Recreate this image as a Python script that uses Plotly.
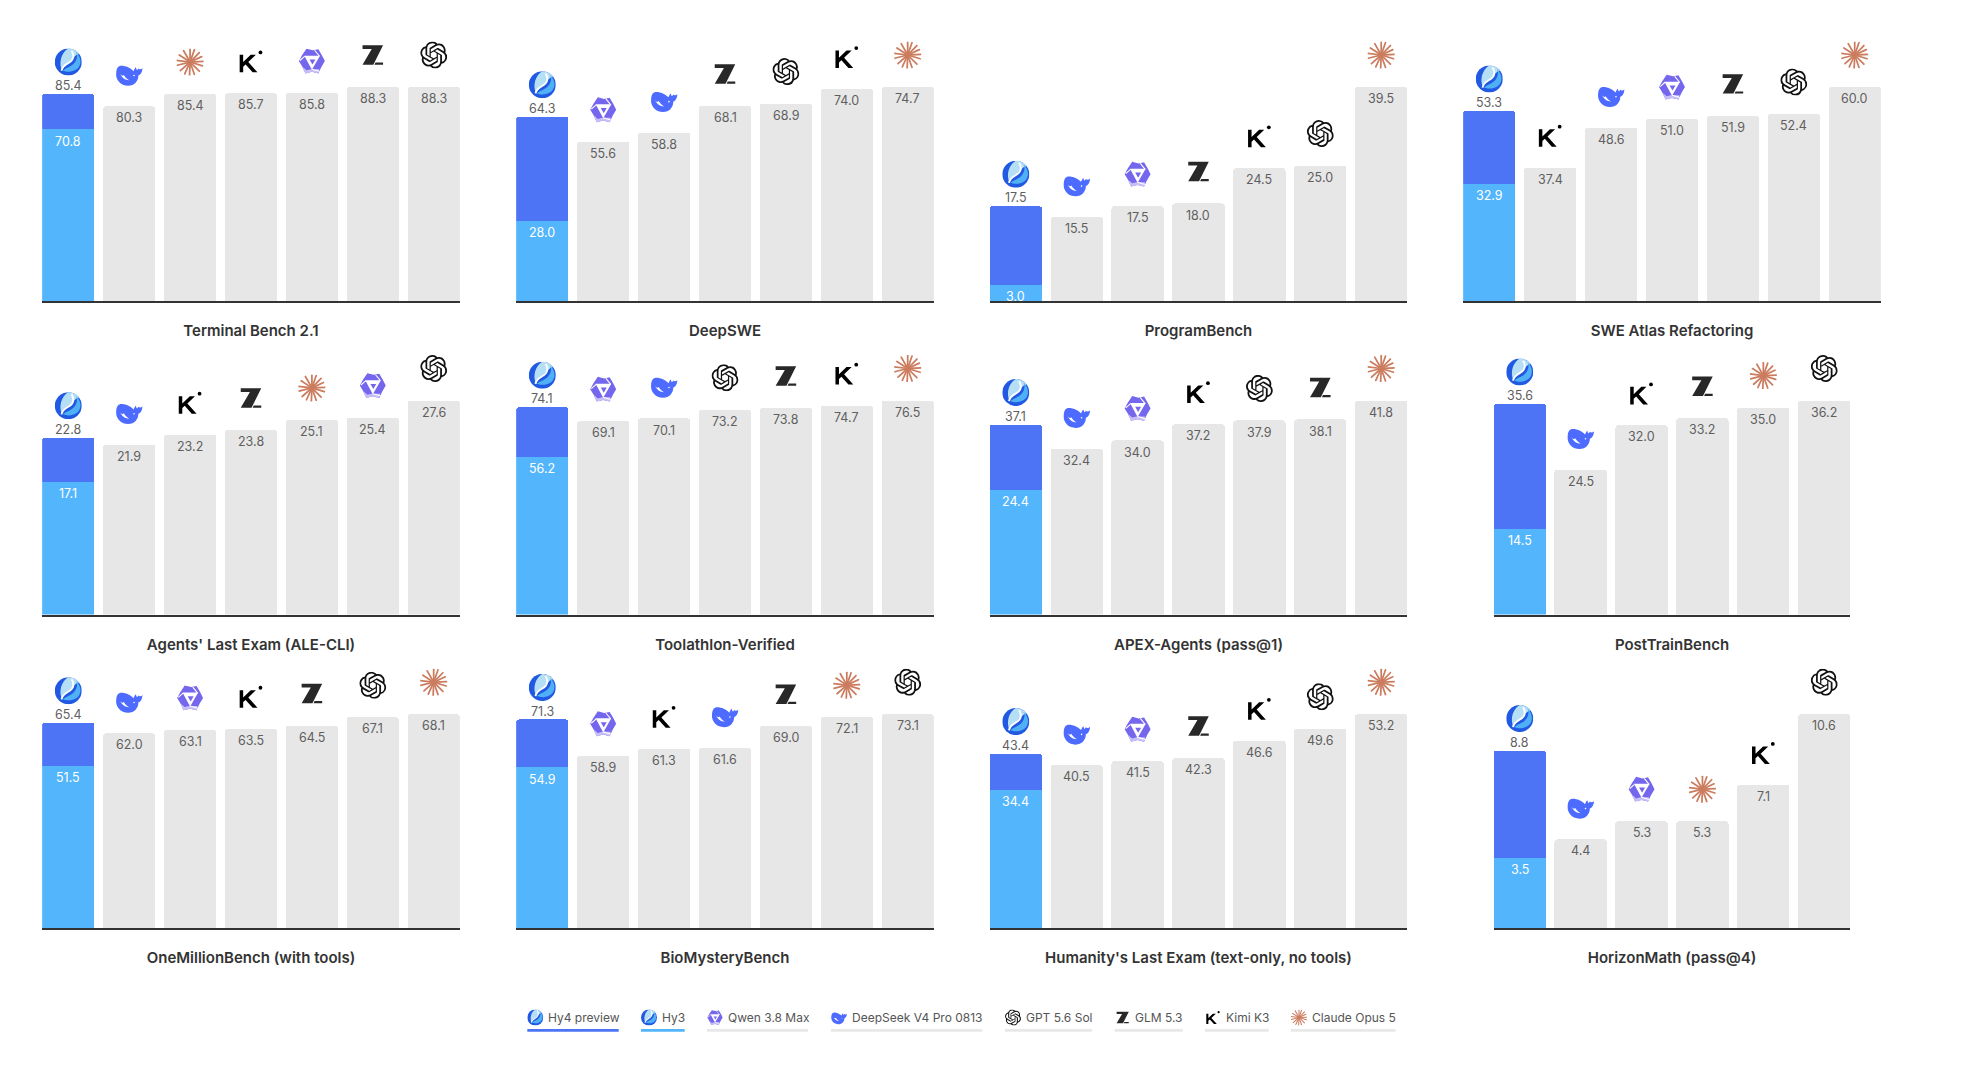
import base64
import plotly.graph_objects as go

# one entry per small chart, left to right, top to bottom
PANEL_TITLES = [
    "Terminal Bench 2.1", "DeepSWE", "ProgramBench", "SWE Atlas Refactoring",
    "Agents' Last Exam (ALE-CLI)", "Toolathlon-Verified", "APEX-Agents (pass@1)", "PostTrainBench",
    "OneMillionBench (with tools)", "BioMysteryBench", "Humanity's Last Exam (text-only, no tools)", "HorizonMath (pass@4)",
]
PANEL_MODELS = [
    ["hy", "deepseek", "claude", "kimi", "qwen", "glm", "gpt"],
    ["hy", "qwen", "deepseek", "glm", "gpt", "kimi", "claude"],
    ["hy", "deepseek", "qwen", "glm", "kimi", "gpt", "claude"],
    ["hy", "kimi", "deepseek", "qwen", "glm", "gpt", "claude"],
    ["hy", "deepseek", "kimi", "glm", "claude", "qwen", "gpt"],
    ["hy", "qwen", "deepseek", "gpt", "glm", "kimi", "claude"],
    ["hy", "deepseek", "qwen", "kimi", "gpt", "glm", "claude"],
    ["hy", "deepseek", "kimi", "glm", "claude", "gpt"],
    ["hy", "deepseek", "qwen", "kimi", "glm", "gpt", "claude"],
    ["hy", "qwen", "kimi", "deepseek", "glm", "claude", "gpt"],
    ["hy", "deepseek", "qwen", "glm", "kimi", "gpt", "claude"],
    ["hy", "deepseek", "qwen", "claude", "kimi", "gpt"],
]
PANEL_VALUES = [
    [85.4, 80.3, 85.4, 85.7, 85.8, 88.3, 88.3],
    [64.3, 55.6, 58.8, 68.1, 68.9, 74.0, 74.7],
    [17.5, 15.5, 17.5, 18.0, 24.5, 25.0, 39.5],
    [53.3, 37.4, 48.6, 51.0, 51.9, 52.4, 60.0],
    [22.8, 21.9, 23.2, 23.8, 25.1, 25.4, 27.6],
    [74.1, 69.1, 70.1, 73.2, 73.8, 74.7, 76.5],
    [37.1, 32.4, 34.0, 37.2, 37.9, 38.1, 41.8],
    [35.6, 24.5, 32.0, 33.2, 35.0, 36.2],
    [65.4, 62.0, 63.1, 63.5, 64.5, 67.1, 68.1],
    [71.3, 58.9, 61.3, 61.6, 69.0, 72.1, 73.1],
    [43.4, 40.5, 41.5, 42.3, 46.6, 49.6, 53.2],
    [8.8, 4.4, 5.3, 5.3, 7.1, 10.6],
]
HY3_VALUES = [70.8, 28.0, 3.0, 32.9, 17.1, 56.2, 24.4, 14.5, 51.5, 54.9, 34.4, 3.5]

LEGEND_NAMES = ["Hy4 preview", "Hy3", "Qwen 3.8 Max", "DeepSeek V4 Pro 0813", "GPT 5.6 Sol", "GLM 5.3", "Kimi K3", "Claude Opus 5"]
LEGEND_ICONS = ["hy", "hy", "qwen", "deepseek", "gpt", "glm", "kimi", "claude"]
LEGEND_COLORS = ["#4d74f5", "#53b5fb", "#e8e8e8", "#e8e8e8", "#e8e8e8", "#e8e8e8", "#e8e8e8", "#e8e8e8"]
LEGEND_LEFT = [527.3, 641, 707, 831, 1005, 1114.7, 1205, 1291]
LEGEND_RIGHT = [618.7, 684.7, 808, 982.3, 1092, 1182.7, 1268.7, 1395.7]
LEGEND_TEXT = [548.3, 662, 728, 851.7, 1025.7, 1135.3, 1226, 1312]

W, H = 1964, 1080
COL_X = [42, 516, 989.5, 1463]
ROW_AXIS = [301, 614.5, 928.2]
PANEL_W = 418
BAR_STEP = 60.9
BAR_W = 52.3
BAR_H = 214
PANEL_H = 262
FONT = "Inter, 'Noto Sans', sans-serif"

# logos, drawn on a 100x100 box (gpt on the 24x24 box of its path)
burst = "".join(
    f'<line x1="50" y1="50" x2="{x}" y2="{y}"/>'
    for x, y in [(50, 2), (66, 4), (84, 15), (93, 30), (100, 48), (96, 64), (84, 84), (66, 96), (48, 100),
                 (30, 94), (14, 82), (2, 62), (0, 44), (10, 24), (26, 8)]
)
GPT_PATH = (
    "M22.2819 9.8211a5.9847 5.9847 0 0 0-.5157-4.9108 6.0462 6.0462 0 0 0-6.5098-2.9A6.0651 6.0651 0 0 0 4.9807 4.1818"
    "a5.9847 5.9847 0 0 0-3.9977 2.9 6.0462 6.0462 0 0 0 .7427 7.0966 5.98 5.98 0 0 0 .511 4.9107 6.051 6.051 0 0 0 6.5146 2.9001"
    "A5.9847 5.9847 0 0 0 13.2599 24a6.0557 6.0557 0 0 0 5.7718-4.2058 5.9894 5.9894 0 0 0 3.9977-2.9001 6.0557 6.0557 0 0 0-.7475-7.0729z"
    "m-9.022 12.6081a4.4755 4.4755 0 0 1-2.8764-1.0408l.1419-.0804 4.7783-2.7582a.7948.7948 0 0 0 .3927-.6813v-6.7369l2.02 1.1686"
    "a.071.071 0 0 1 .038.052v5.5826a4.504 4.504 0 0 1-4.4945 4.4944zm-9.6607-4.1254a4.4708 4.4708 0 0 1-.5346-3.0137l.142.0852 4.783 2.7582"
    "a.7712.7712 0 0 0 .7806 0l5.8428-3.3685v2.3324a.0804.0804 0 0 1-.0332.0615L9.74 19.9502a4.4992 4.4992 0 0 1-6.1408-1.6464z"
    "M2.3408 7.8956a4.485 4.485 0 0 1 2.3655-1.9728V11.6a.7664.7664 0 0 0 .3879.6765l5.8144 3.3543-2.0201 1.1685a.0757.0757 0 0 1-.071 0"
    "l-4.8303-2.7865A4.504 4.504 0 0 1 2.3408 7.872zm16.5963 3.8558L13.1038 8.364 15.1192 7.2a.0757.0757 0 0 1 .071 0l4.8303 2.7913"
    "a4.4944 4.4944 0 0 1-.6765 8.1042v-5.6772a.79.79 0 0 0-.407-.667zm2.0107-3.0231l-.142-.0852-4.7735-2.7818a.7759.7759 0 0 0-.7854 0"
    "L9.409 9.2297V6.8974a.0662.0662 0 0 1 .0284-.0615l4.8303-2.7866a4.4992 4.4992 0 0 1 6.6802 4.66zM8.3065 12.863l-2.02-1.1638"
    "a.0804.0804 0 0 1-.038-.0567V6.0742a4.4992 4.4992 0 0 1 7.3757-3.4537l-.142.0805L8.704 5.459a.7948.7948 0 0 0-.3927.6813z"
    "m1.0976-2.3654l2.602-1.4998 2.6069 1.4998v2.9994l-2.5974 1.4997-2.6067-1.4997Z"
)
ICONS = {
    "hy": '<circle cx="50" cy="50" r="50" fill="#2259e3"/>'
          '<path d="M50 0A50 50 0 0 1 90 20C78 22 68 34 60 44C50 54 32 60 26 78C14 55 24 14 50 0Z" fill="#b5dff5"/>'
          '<path d="M78 13C98 30 102 60 82 76C62 90 42 86 30 82C44 68 62 70 75 50C84 36 84 24 78 13Z" fill="#4fb0f5"/>'
          '<path d="M25 82C28 58 52 58 64 42C72 30 70 20 62 8" stroke="#fff" stroke-width="7" fill="none"/>',
    "deepseek": '<path d="M2 42C-2 70 18 92 46 92C70 92 84 74 84 54C92 52 98 42 100 26C94 32 88 32 83 28C81 36 77 36 75 24'
                'C70 26 68 36 66 38C56 26 36 18 22 18C8 18 4 28 2 42Z" fill="#4d6bfe"/>'
                '<path d="M16 48C22 62 36 72 50 72C42 66 34 60 30 52C26 58 20 54 16 48Z" fill="#fff"/>'
                '<circle cx="68" cy="54" r="3" fill="#fff"/>',
    "claude": f'<g stroke="#cc7c5e" stroke-width="6.5" stroke-linecap="round">{burst}</g><circle cx="50" cy="50" r="9" fill="#cc7c5e"/>',
    "kimi": '<path d="M8 26H21V53L49 26H68L40 53L74 91H56L30 62L21 70V91H8Z" fill="#000"/><circle cx="85" cy="17" r="7" fill="#000"/>',
    "qwen": '<path d="M30 4L54 10L74 6L88 30L98 50L85 72L74 96L50 90L26 96L14 70L2 50L14 28Z" fill="#7566ee"/>'
            '<path d="M14 70L26 96L50 90L74 96L78 80L46 80L30 84Z" fill="#c6bff8"/>'
            '<path d="M22 30H80L50 82Z" fill="#fff"/>'
            '<path d="M41 44H63L52 63Z" fill="#7566ee"/>'
            '<path d="M24 32L6 48M78 32L60 10M50 80L78 88" stroke="#fff" stroke-width="4"/>',
    "glm": '<path d="M12 14H88L52 86H12L46 28H12Z" fill="#282828"/><path d="M60 78H88V86H56Z" fill="#282828"/>',
    "gpt": f'<path d="{GPT_PATH}" fill="#111"/>',
}


def icon_uri(name):
    box = "0 0 24 24" if name == "gpt" else "0 0 100 100"
    svg = f'<svg xmlns="http://www.w3.org/2000/svg" viewBox="{box}">{ICONS[name]}</svg>'
    return "data:image/svg+xml;base64," + base64.b64encode(svg.encode()).decode()


fig = go.Figure()
annotations = []
images = []
shapes = []
axes = {}

for i, title in enumerate(PANEL_TITLES):
    row, col = divmod(i, 4)
    models = PANEL_MODELS[i]
    values = PANEL_VALUES[i]
    hy3 = HY3_VALUES[i]
    n = len(values)
    suffix = "" if i == 0 else str(i + 1)
    xname, yname = "x" + suffix, "y" + suffix

    # 6-bar panels sit in the middle of the column
    used = (n - 1) * BAR_STEP + BAR_W
    left = COL_X[col] + (PANEL_W - used) / 2
    bottom = ROW_AXIS[row]
    px_per_unit = BAR_H / max(values)
    bar_frac = BAR_W / BAR_STEP

    fig.add_trace(go.Bar(x=[0], y=[hy3], width=bar_frac, name="Hy3", marker_color="#53b5fb", marker_line_width=0,
                         xaxis=xname, yaxis=yname, showlegend=False))
    fig.add_trace(go.Bar(x=[0], y=[values[0] - hy3], width=bar_frac, name="Hy4 preview", marker_color="#4d74f5",
                         marker_line_width=0, xaxis=xname, yaxis=yname, showlegend=False))
    fig.add_trace(go.Bar(x=list(range(1, n)), y=values[1:], width=bar_frac, marker_color="#e7e7e7", marker_line_width=0,
                         xaxis=xname, yaxis=yname, showlegend=False, text=models[1:], textposition="none"))

    axes["xaxis" + suffix] = dict(
        domain=[left / W, (left + used) / W], range=[-bar_frac / 2, n - 1 + bar_frac / 2], anchor=yname,
        showgrid=False, zeroline=False, showticklabels=False, ticks="", showline=True, linecolor="#333333", linewidth=1.5,
        title=dict(text=title, standoff=24, font=dict(family=FONT, size=15, color="#333333", weight=600)),
        fixedrange=True,
    )
    axes["yaxis" + suffix] = dict(
        domain=[(H - bottom) / H, (H - bottom + PANEL_H) / H], range=[0, PANEL_H / px_per_unit], anchor=xname,
        visible=False, fixedrange=True,
    )

    for j, v in enumerate(values):
        annotations.append(dict(x=j, y=v, xref=xname, yref=yname, text=f"{v:.1f}", showarrow=False, yanchor="middle",
                                yshift=8.3 if j == 0 else -11.6, font=dict(family=FONT, size=12.5, color="#5f5f5f")))
        images.append(dict(source=icon_uri(models[j]), xref=xname, yref=yname, x=j, y=v + 32 / px_per_unit,
                           sizex=27 / BAR_STEP, sizey=27 / px_per_unit, xanchor="center", yanchor="middle", layer="above"))
    annotations.append(dict(x=0, y=hy3, xref=xname, yref=yname, text=f"{hy3:.1f}", showarrow=False, yanchor="middle",
                            yshift=-11.6, font=dict(family=FONT, size=12.5, color="#ffffff")))

# the legend under the charts is icon + name + coloured underline
for name, icon, color, x0, x1, tx in zip(LEGEND_NAMES, LEGEND_ICONS, LEGEND_COLORS, LEGEND_LEFT, LEGEND_RIGHT, LEGEND_TEXT):
    annotations.append(dict(x=tx / W, y=(H - 1017.7) / H, xref="paper", yref="paper", text=name, showarrow=False,
                            xanchor="left", yanchor="middle", xshift=-2, font=dict(family=FONT, size=12, color="#555555")))
    images.append(dict(source=icon_uri(icon), xref="paper", yref="paper", x=(x0 + 8) / W, y=(H - 1017.5) / H,
                       sizex=16 / W, sizey=16 / H, xanchor="center", yanchor="middle", layer="above"))
    shapes.append(dict(type="rect", xref="paper", yref="paper", x0=x0 / W, x1=x1 / W, y0=(H - 1031.7) / H, y1=(H - 1029) / H,
                       fillcolor=color, line_width=0))

fig.update_layout(
    width=W, height=H, margin=dict(l=0, r=0, t=0, b=0), paper_bgcolor="white", plot_bgcolor="white",
    barmode="stack", barcornerradius=3, showlegend=False,
    annotations=annotations, images=images, shapes=shapes, **axes,
)

fig.write_html("out.html", config={"displayModeBar": False},
               post_script="document.body.style.margin='0';document.body.style.overflow='hidden';")
